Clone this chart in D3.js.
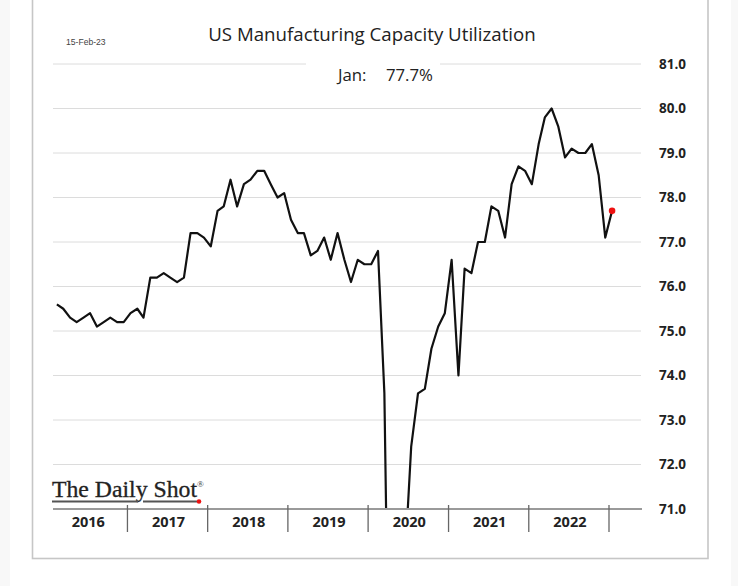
<!DOCTYPE html>
<html>
<head>
<meta charset="utf-8">
<script src="https://cdn.jsdelivr.net/npm/d3@7"></script>
<style>
  html, body { margin: 0; padding: 0; background: #ffffff; }
  svg { display: block; }
</style>
</head>
<body>
<svg id="chart" width="738" height="586"></svg>
<script>
// ---- Data (monthly, Feb 2016 – Jan 2023) ----
const startMonth = "2016-02";
const values = [
  // 2016 Feb–Dec
  75.6, 75.5, 75.3, 75.2, 75.3, 75.4, 75.1, 75.2, 75.3, 75.2, 75.2,
  // 2017
  75.4, 75.5, 75.3, 76.2, 76.2, 76.3, 76.2, 76.1, 76.2, 77.2, 77.2, 77.1,
  // 2018
  76.9, 77.7, 77.8, 78.4, 77.8, 78.3, 78.4, 78.6, 78.6, 78.3, 78.0, 78.1,
  // 2019
  77.5, 77.2, 77.2, 76.7, 76.8, 77.1, 76.6, 77.2, 76.6, 76.1, 76.6, 76.5,
  // 2020
  76.5, 76.8, 73.6, 63.2, 65.5, 69.7, 72.4, 73.6, 73.7, 74.6, 75.1, 75.4,
  // 2021
  76.6, 74.0, 76.4, 76.3, 77.0, 77.0, 77.8, 77.7, 77.1, 78.3, 78.7, 78.6,
  // 2022
  78.3, 79.2, 79.8, 80.0, 79.6, 78.9, 79.1, 79.0, 79.0, 79.2, 78.5, 77.1,
  // 2023
  77.7
];
const yearLabels = ["2016", "2017", "2018", "2019", "2020", "2021", "2022"];
const yTicks = [71, 72, 73, 74, 75, 76, 77, 78, 79, 80, 81];
const titleText = "US Manufacturing Capacity Utilization";
const dateText = "15-Feb-23";
const latestLabel = "Jan:";
const latestValue = "77.7%";

// ---- Layout ----
const svg = d3.select("#chart");
const W = 738, H = 586;

// page side strips
svg.append("rect").attr("x", 0).attr("y", 0).attr("width", 10).attr("height", H).attr("fill", "#f8f8f8");
svg.append("rect").attr("x", 731).attr("y", 0).attr("width", 7).attr("height", H).attr("fill", "#f8f8f8");
// card
svg.append("rect").attr("x", 32.5).attr("y", -5).attr("width", 675.5).attr("height", 563.5)
  .attr("fill", "#ffffff").attr("stroke", "#c6c6c6").attr("stroke-width", 1.6);

const parseM = d3.timeParse("%Y-%m");
const t0 = parseM(startMonth);
const data = values.map((v, i) => {
  const d = d3.timeMonth.offset(t0, i);
  return { date: new Date(d.getFullYear(), d.getMonth(), 15), value: v };
});

const plotLeft = 53, plotRight = 641, plotTop = 64, plotBottom = 509;

const x = d3.scaleTime()
  .domain([new Date(2016, 0, 1), new Date(2023, 0, 1)])
  .range([47, 609]);
const y = d3.scaleLinear().domain([71, 81]).range([plotBottom, plotTop]);

// gridlines
const grid = svg.append("g");
grid.selectAll("line").data(yTicks.filter(t => t !== 71)).join("line")
  .attr("x1", plotLeft).attr("x2", plotRight)
  .attr("y1", d => y(d)).attr("y2", d => y(d))
  .attr("stroke", "#dcdcdc").attr("stroke-width", 1);

// right axis labels
const yAxis = d3.axisRight(y).tickValues(yTicks).tickSize(0).tickPadding(0)
  .tickFormat(d3.format(".1f"));
const yg = svg.append("g").attr("transform", `translate(686,0)`).call(yAxis);
yg.select(".domain").remove();
yg.selectAll("text")
  .attr("text-anchor", "end")
  .attr("font-family", "'Open Sans', 'DejaVu Sans', sans-serif")
  .attr("font-weight", "bold").attr("font-size", 13.5).attr("fill", "#222");

// line
svg.append("clipPath").attr("id", "clip").append("rect")
  .attr("x", plotLeft - 5).attr("y", plotTop - 10)
  .attr("width", plotRight - plotLeft + 10).attr("height", plotBottom - plotTop + 10);

const line = d3.line().x(d => x(d.date)).y(d => y(d.value));
svg.append("path").datum(data)
  .attr("clip-path", "url(#clip)")
  .attr("d", line)
  .attr("fill", "none").attr("stroke", "#111").attr("stroke-width", 2.2)
  .attr("stroke-linejoin", "round");

// last point red dot
const last = data[data.length - 1];
svg.append("circle").attr("cx", x(last.date)).attr("cy", y(last.value))
  .attr("r", 3.3).attr("fill", "#ee1111");

// x axis line
svg.append("line").attr("x1", plotLeft).attr("x2", plotRight + 1)
  .attr("y1", plotBottom).attr("y2", plotBottom)
  .attr("stroke", "#9a9a9a").attr("stroke-width", 2);

// year separators
const sepYears = d3.range(2017, 2024).map(yr => new Date(yr, 0, 1));
svg.append("g").selectAll("line").data(sepYears).join("line")
  .attr("x1", d => x(d)).attr("x2", d => x(d))
  .attr("y1", 505).attr("y2", 532)
  .attr("stroke", "#666").attr("stroke-width", 1.3);

// year labels
svg.append("g").selectAll("text").data(yearLabels).join("text")
  .attr("x", d => (x(new Date(+d, 0, 1)) + x(new Date(+d + 1, 0, 1))) / 2 + 1)
  .attr("y", 527)
  .attr("text-anchor", "middle")
  .attr("font-family", "'Open Sans', 'DejaVu Sans', sans-serif")
  .attr("font-weight", "bold").attr("font-size", 14.5).attr("fill", "#222")
  .text(d => d);

// title
svg.append("text").attr("x", 372).attr("y", 41).attr("text-anchor", "middle")
  .attr("font-family", "'Open Sans', 'Noto Sans', sans-serif")
  .attr("font-size", 18.7).attr("fill", "#222").text(titleText);

// date
svg.append("text").attr("x", 66).attr("y", 45)
  .attr("font-family", "'Liberation Sans Narrow', 'Liberation Sans', sans-serif")
  .attr("font-size", 8.6).attr("fill", "#444").text(dateText);

// latest value label with white background
svg.append("rect").attr("x", 306).attr("y", 58).attr("width", 134).attr("height", 12).attr("fill", "#fff");
svg.append("text").attr("x", 338).attr("y", 81)
  .attr("font-family", "'Open Sans', 'Noto Sans', sans-serif")
  .attr("font-size", 16.8).attr("fill", "#222")
  .text(latestLabel);
svg.append("text").attr("x", 433).attr("y", 81).attr("text-anchor", "end")
  .attr("font-family", "'Open Sans', 'Noto Sans', sans-serif")
  .attr("font-size", 16.8).attr("fill", "#222")
  .text(latestValue);

// logo
const logo = svg.append("g");
logo.append("text").attr("x", 52).attr("y", 497)
  .attr("font-family", "'Liberation Serif', 'DejaVu Serif', serif")
  .attr("font-size", 22.5).attr("fill", "#222")
  .attr("textLength", 145).attr("lengthAdjust", "spacingAndGlyphs")
  .attr("stroke", "#222").attr("stroke-width", 0.3)
  .text("The Daily Shot");
logo.append("text").attr("x", 197).attr("y", 487)
  .attr("font-family", "'Liberation Serif', serif")
  .attr("font-size", 9).attr("fill", "#333").text("®");
logo.append("line").attr("x1", 52).attr("x2", 138).attr("y1", 501.5).attr("y2", 501.5)
  .attr("stroke", "#555").attr("stroke-width", 1.8);
logo.append("line").attr("x1", 143).attr("x2", 197).attr("y1", 501.5).attr("y2", 501.5)
  .attr("stroke", "#555").attr("stroke-width", 1.8);
logo.append("circle").attr("cx", 199).attr("cy", 501.5).attr("r", 2.3).attr("fill", "#ee1111");
</script>
</body>
</html>
